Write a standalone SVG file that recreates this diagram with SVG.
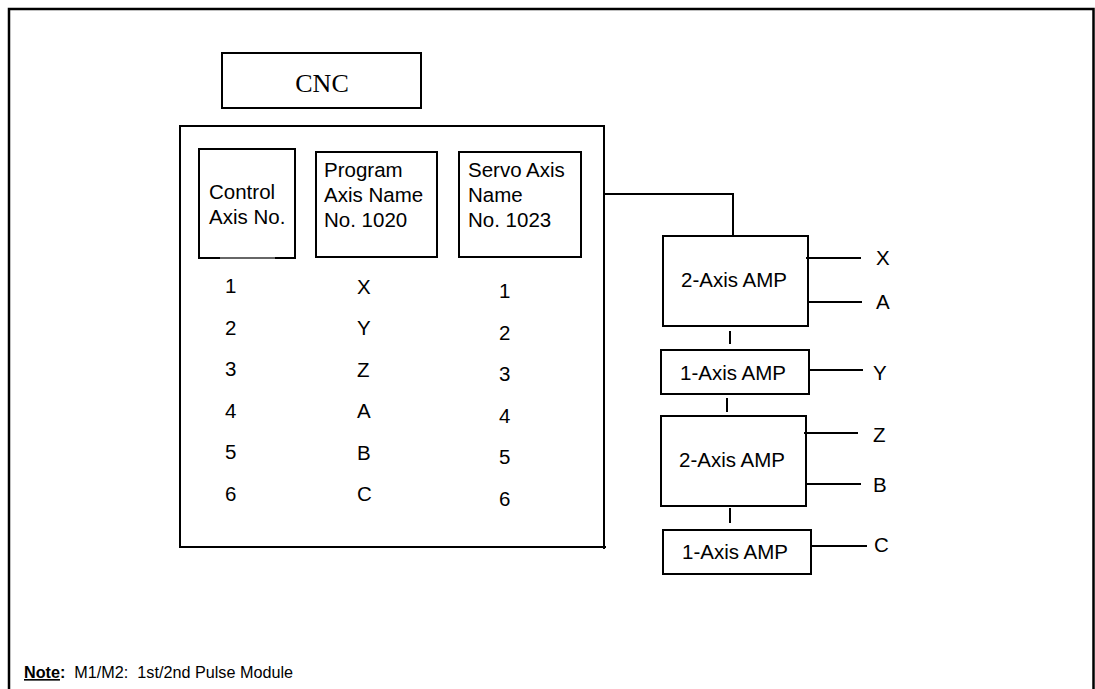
<svg xmlns="http://www.w3.org/2000/svg" width="1095" height="689" viewBox="0 0 1095 689">
<style>
.box{fill:#fff;stroke:#000;stroke-width:2}
.ln{fill:none;stroke:#000;stroke-width:2}
.t{font-family:"Liberation Sans",Arial,sans-serif;font-size:20.5px;fill:#000}
.tc{text-anchor:middle}
.cnc{font-family:"Liberation Serif","Times New Roman",serif;font-size:26px;fill:#000;text-anchor:middle}
.note{font-family:"Liberation Sans",Arial,sans-serif;font-size:16.2px;fill:#000;white-space:pre}
</style>
<rect width="1095" height="689" fill="#fff"/>
<g id="frame"><path d="M9,700 V9 H1093.5 V700" fill="none" stroke="#000" stroke-width="2.5"/></g>
<g id="cnc"><rect class="box" x="222" y="53" width="199" height="55"/><text class="cnc" x="322" y="92">CNC</text></g>
<g id="cnc-body">
<path class="ln" d="M180,547 V126 H604 V549"/>
<path class="ln" d="M179,547 H606"/>
</g>
<g id="control-axis">
<path class="ln" d="M220,258 H199 V149 H295 V258 H275"/>
<path d="M220,258 H275" stroke="#666" stroke-width="2"/>
<text class="t" x="209" y="199">Control</text>
<text class="t" x="209" y="224">Axis No.</text>
</g>
<g id="program-axis"><rect class="box" x="316" y="152" width="121" height="105"/>
<text class="t" x="324" y="177">Program</text><text class="t" x="324" y="202">Axis Name</text><text class="t" x="324" y="227">No. 1020</text></g>
<g id="servo-axis"><rect class="box" x="459" y="152" width="122" height="105"/>
<text class="t" x="468" y="177">Servo Axis</text><text class="t" x="468" y="202">Name</text><text class="t" x="468" y="227">No. 1023</text></g>
<g id="table">
<g class="t">
<text x="225" y="293">1</text><text x="225" y="335">2</text><text x="225" y="376">3</text><text x="225" y="418">4</text><text x="225" y="459">5</text><text x="225" y="501">6</text>
<text x="357" y="294">X</text><text x="357" y="335">Y</text><text x="357" y="377">Z</text><text x="357" y="418">A</text><text x="357" y="460">B</text><text x="357" y="501">C</text>
<text x="499" y="298">1</text><text x="499" y="340">2</text><text x="499" y="381">3</text><text x="499" y="423">4</text><text x="499" y="464">5</text><text x="499" y="506">6</text>
</g>
</g>
<g id="amp1"><rect class="box" x="663" y="236" width="145" height="90"/><text class="t tc" x="734" y="287">2-Axis AMP</text></g>
<g id="amp2"><rect class="box" x="661" y="350" width="148" height="44"/><text class="t tc" x="733" y="380">1-Axis AMP</text></g>
<g id="amp3"><rect class="box" x="661" y="416" width="145" height="90"/><text class="t tc" x="732" y="467">2-Axis AMP</text></g>
<g id="amp4"><rect class="box" x="663" y="530" width="148" height="44"/><text class="t tc" x="735" y="559">1-Axis AMP</text></g>
<g id="connectors">
<path class="ln" d="M604,194 H733 V236"/>
<path class="ln" d="M730,331 V344"/>
<path class="ln" d="M727,398 V412"/>
<path class="ln" d="M730,508 V523"/>
<path class="ln" d="M806,258 H861"/>
<path class="ln" d="M808,302 H862"/>
<path class="ln" d="M809,370 H863"/>
<path class="ln" d="M804,433 H858"/>
<path class="ln" d="M806,484 H861"/>
<path class="ln" d="M811,546 H867"/>
</g>
<g id="axis-labels" class="t">
<text x="876" y="265">X</text>
<text x="876" y="309">A</text>
<text x="873" y="380">Y</text>
<text x="873" y="442">Z</text>
<text x="873" y="492">B</text>
<text x="874" y="552">C</text>
</g>
<g id="note"><text class="note" x="24" y="678"><tspan font-weight="bold" text-decoration="underline">Note</tspan><tspan font-weight="bold">:</tspan>  M1/M2:  1st/2nd Pulse Module</text></g>
</svg>
